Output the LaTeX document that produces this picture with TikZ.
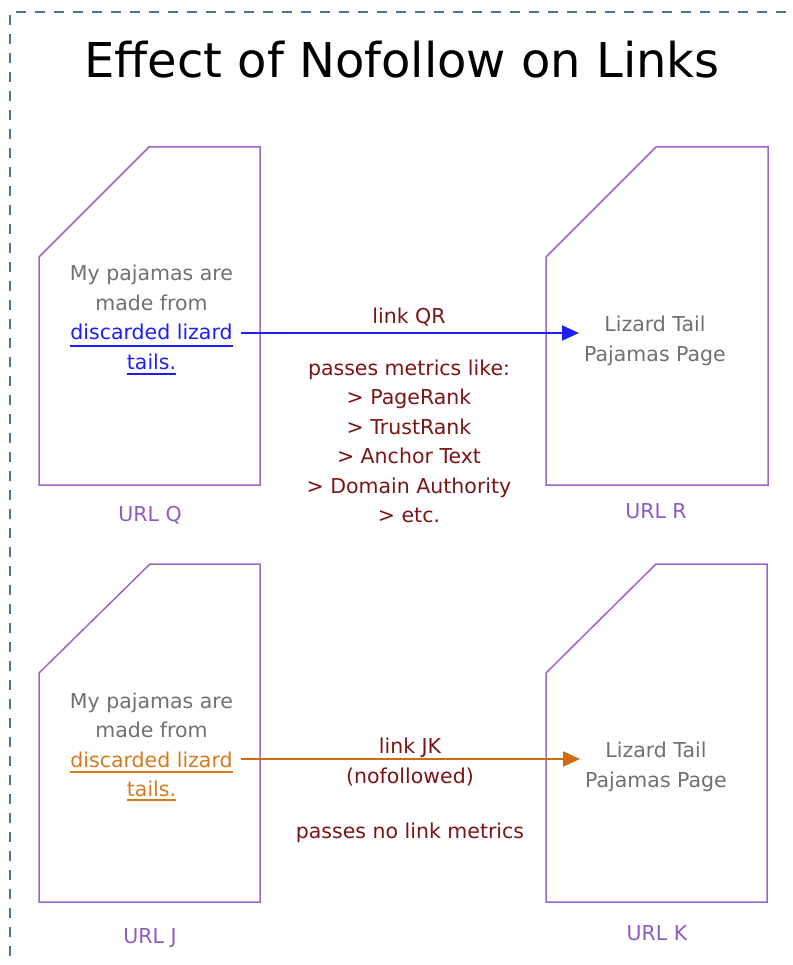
\documentclass[tikz,border=0pt]{standalone}
\usepackage{fontspec}
\setmainfont{DejaVu Sans}
\usetikzlibrary{arrows.meta}
\definecolor{boxpurple}{HTML}{9966CC}
\definecolor{urlpurple}{HTML}{8C5CC4}
\definecolor{graytext}{HTML}{707070}
\definecolor{linkblue}{HTML}{1E1EFA}
\definecolor{jtext}{HTML}{D67A1E}
\definecolor{jarrow}{HTML}{D2690E}
\definecolor{maroon}{HTML}{7B1416}
\definecolor{borderblue}{HTML}{51709C}
\newcommand\txtsz{\fontsize{20.5}{29.5}\selectfont}
\begin{document}
\begin{tikzpicture}[x=1pt,y=-1pt,
  txt/.style={inner sep=0pt,anchor=base,font=\txtsz},
  graytxt/.style={txt,text=graytext},
  redtxt/.style={txt,text=maroon},
  urltxt/.style={txt,text=urlpurple},
  docbox/.style={draw=boxpurple,line width=1.5pt,line join=miter},
  uline/.style={line width=2pt},
  linkarrow/.style={line width=2pt,-{Triangle[length=17pt,width=15pt]},shorten <=8pt,shorten >=5pt}]
\useasboundingbox (0,0) rectangle (792,965);
% dashed frame
\draw[borderblue,line width=1.5pt,dash pattern=on 10pt off 9pt] (10,975) -- (10,12) -- (800,12);
% title
\node[inner sep=0pt,anchor=base,font=\fontsize{48}{58}\selectfont] (title) at (402,78) {Effect of Nofollow on Links};
% document shapes
\draw[docbox] (149,147) -- (260,147) -- (260,485) -- (39,485) -- (39,257) -- cycle;
\draw[docbox] (656,147) -- (768,147) -- (768,485) -- (546,485) -- (546,257) -- cycle;
\draw[docbox] (150,564) -- (260,564) -- (260,902) -- (39,902) -- (39,673) -- cycle;
\draw[docbox] (656,564) -- (767,564) -- (767,902) -- (546,902) -- (546,673) -- cycle;
% URL Q text
\node[graytxt] (q1) at (151.5,280) {My pajamas are};
\node[graytxt] (q2) at (151.5,310) {made from};
\node[txt,text=linkblue] (q3) at (151.5,339.5) {discarded lizard};
\node[txt,text=linkblue] (q4) at (151.5,369) {tails.};
\draw[uline,color=linkblue] ([yshift=-6.5pt]q3.base west) -- ([yshift=-6.5pt]q3.base east);
\draw[uline,color=linkblue] ([yshift=-5pt]q4.base west) -- ([yshift=-5pt]q4.base east);
% URL R text
\node[graytxt] (r1) at (655,331.5) {Lizard Tail};
\node[graytxt] (r2) at (655,361) {Pajamas Page};
% labels
\node[urltxt] (urlq) at (150,521) {URL Q};
\node[urltxt] (urlr) at (656,518) {URL R};
% link QR
\node[redtxt] (lqr) at (409,323) {link QR};
\node[redtxt] (m1) at (409,375) {passes metrics like:};
\node[redtxt] (m2) at (409,404.5) {> PageRank};
\node[redtxt] (m3) at (409,434) {> TrustRank};
\node[redtxt] (m4) at (409,463.5) {> Anchor Text};
\node[redtxt] (m5) at (409,493) {> Domain Authority};
\node[redtxt] (m6) at (409,522.5) {> etc.};
\coordinate (qa) at ([yshift=6.5pt]q3.base east);
\draw[linkarrow,color=linkblue] (qa) -- (qa -| r2.west);
% URL J text
\node[graytxt] (j1) at (151.5,708) {My pajamas are};
\node[graytxt] (j2) at (151.5,737.5) {made from};
\node[txt,text=jtext] (j3) at (151.5,767) {discarded lizard};
\node[txt,text=jtext] (j4) at (151.5,796) {tails.};
\draw[uline,color=jtext] ([yshift=-5pt]j3.base west) -- ([yshift=-5pt]j3.base east);
\draw[uline,color=jtext] ([yshift=-4pt]j4.base west) -- ([yshift=-4pt]j4.base east);
% URL K text
\node[graytxt] (k1) at (656,757) {Lizard Tail};
\node[graytxt] (k2) at (656,787) {Pajamas Page};
\node[urltxt] (urlj) at (150,943) {URL J};
\node[urltxt] (urlk) at (657,940) {URL K};
% link JK
\node[redtxt] (ljk) at (410,753) {link JK};
\node[redtxt] (nf) at (410,783) {(nofollowed)};
\node[redtxt] (nm) at (410,838) {passes no link metrics};
\coordinate (ja) at ([yshift=8pt]j3.base east);
\draw[linkarrow,color=jarrow] (ja) -- (ja -| k2.west);
\end{tikzpicture}
\end{document}
